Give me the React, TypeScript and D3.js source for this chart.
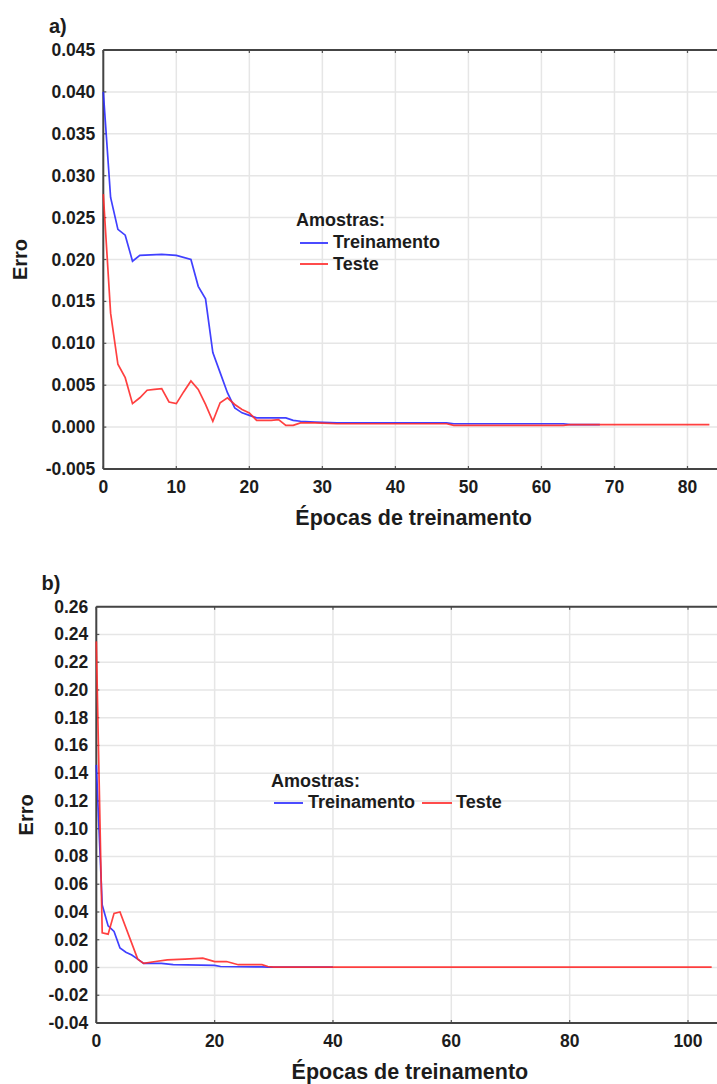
import * as d3 from "d3";
import React from "react";

// painel a) — épocas e erro
const epochsTrainA = [0, 1, 2, 3, 4, 5, 8, 10, 12, 13, 14, 15, 16, 17, 18, 19, 20, 21, 24, 25, 26, 27, 29, 32, 47, 48, 63, 64, 68];
const errTrainA = [0.04, 0.0274, 0.0236, 0.0229, 0.0198, 0.0205, 0.0206, 0.0205, 0.02, 0.0168, 0.0153, 0.0089, 0.0065, 0.0041, 0.0023, 0.0017, 0.0014, 0.0011, 0.0011, 0.0011, 0.0008, 0.0007, 0.0006, 0.0005, 0.0005, 0.0004, 0.0004, 0.0003, 0.0003];
const epochsTestA = [0, 1, 2, 3, 4, 5, 6, 7, 8, 9, 10, 11, 12, 13, 14, 15, 16, 17, 18, 19, 20, 21, 23, 24, 25, 26, 27, 29, 32, 47, 48, 63, 64, 83];
const errTestA = [0.0278, 0.0136, 0.0075, 0.0059, 0.0028, 0.0035, 0.0044, 0.0045, 0.0046, 0.003, 0.0028, 0.0042, 0.0055, 0.0045, 0.0027, 0.0007, 0.0029, 0.0035, 0.0027, 0.0021, 0.0017, 0.0008, 0.0008, 0.0009, 0.0002, 0.0002, 0.0005, 0.0005, 0.0004, 0.0004, 0.0002, 0.0002, 0.0003, 0.0003];
const xTicksA = [0, 10, 20, 30, 40, 50, 60, 70, 80];
const yTicksA = [-0.005, 0, 0.005, 0.01, 0.015, 0.02, 0.025, 0.03, 0.035, 0.04, 0.045];

// painel b)
const epochsTrainB = [0, 1, 2, 3, 4, 5, 6, 7, 8, 11, 13, 20, 21, 28, 29, 40];
const errTrainB = [0.146, 0.045, 0.03, 0.026, 0.014, 0.011, 0.009, 0.006, 0.003, 0.003, 0.002, 0.0015, 0.0007, 0.0004, 0.0002, 0.0002];
const epochsTestB = [0, 1, 2, 3, 4, 7, 8, 10, 12, 15, 18, 20, 22, 24, 28, 29, 30, 104];
const errTestB = [0.235, 0.025, 0.024, 0.039, 0.04, 0.006, 0.003, 0.0043, 0.0055, 0.006, 0.0067, 0.0043, 0.0043, 0.002, 0.002, 0.0007, 0.0002, 0.0002];
const xTicksB = [0, 20, 40, 60, 80, 100];
const yTicksB = [-0.04, -0.02, 0, 0.02, 0.04, 0.06, 0.08, 0.1, 0.12, 0.14, 0.16, 0.18, 0.2, 0.22, 0.24, 0.26];

const seriesNames = ["Treinamento", "Teste"];
const FONT = "'Liberation Sans', Arial, sans-serif";
const BLUE = "#2b2bff";
const RED = "#ff2b2b";
const INK = "#1c1c1c";

type P = {
    label: string; labelX: number;
    x0: number; x1: number; xMax: number;
    top: number; bottom: number; yMin: number; yMax: number;
    xTicks: number[]; yTicks: number[]; yFmt: string; erroX: number;
    train: [number[], number[]]; test: [number[], number[]];
    legendX: number; legendY: number; legendInline: boolean;
};

const Panel: React.FC<P> = (p) => {
    const x = d3.scaleLinear().domain([0, p.xMax]).range([p.x0, p.x1]);
    const y = d3.scaleLinear().domain([p.yMin, p.yMax]).range([p.bottom, p.top]);
    const f = d3.format(p.yFmt);
    const fmt = (v: number) => f(v).replace("\u2212", "-");
    const line = d3.line<[number, number]>().x(d => x(d[0])).y(d => y(d[1]));
    const pts = (s: [number[], number[]]) => s[0].map((e, i) => [e, s[1][i]] as [number, number]);
    const cx = (p.x0 + p.x1) / 2;
    const cy = (p.top + p.bottom) / 2;
    const lx = p.legendX, ly = p.legendY;
    return (
        <g fontFamily={FONT} fontWeight="bold" fill={INK}>
            <text x={p.labelX} y={p.top - 17} fontSize={20}>{p.label}</text>
            {p.yTicks.map(t => (
                <g key={"y" + t}>
                    <line x1={p.x0} x2={p.x1} y1={y(t)} y2={y(t)} stroke="#e6e6e6" strokeWidth={1.5} />
                    <line x1={p.x0} x2={p.x0 + 3} y1={y(t)} y2={y(t)} stroke="#555" strokeWidth={1.2} />
                    <text x={p.x0 - 8} y={y(t)} textAnchor="end" dominantBaseline="central" fontSize={17.5}>{fmt(t)}</text>
                </g>
            ))}
            {p.xTicks.map(t => (
                <g key={"x" + t}>
                    <line x1={x(t)} x2={x(t)} y1={p.top} y2={p.bottom} stroke="#e6e6e6" strokeWidth={1.5} />
                    <line x1={x(t)} x2={x(t)} y1={p.top} y2={p.top + 3} stroke="#555" strokeWidth={1.2} />
                    <line x1={x(t)} x2={x(t)} y1={p.bottom} y2={p.bottom - 3} stroke="#555" strokeWidth={1.2} />
                    <text x={x(t)} y={p.bottom + 24} textAnchor="middle" fontSize={17.5}>{t}</text>
                </g>
            ))}
            <line x1={p.x0} x2={p.x1} y1={p.top} y2={p.top} stroke="#444" strokeWidth={2} />
            <line x1={p.x0} x2={p.x1} y1={p.bottom} y2={p.bottom} stroke="#444" strokeWidth={2} />
            <line x1={p.x0} x2={p.x0} y1={p.top} y2={p.bottom} stroke="#444" strokeWidth={2} />

            <path d={line(pts(p.train)) ?? undefined} fill="none" stroke={BLUE} strokeWidth={1.7} strokeOpacity={0.9} />
            <path d={line(pts(p.test)) ?? undefined} fill="none" stroke={RED} strokeWidth={1.7} strokeOpacity={0.9} />

            <text x={cx} y={p.bottom + 56} textAnchor="middle" fontSize={21.5}>Épocas de treinamento</text>
            <text transform={`translate(${p.erroX},${cy}) rotate(-90)`} textAnchor="middle" fontSize={20}>Erro</text>

            <text x={lx} y={ly} fontSize={18}>Amostras:</text>
            {p.legendInline ? (
                <g fontSize={18}>
                    <line x1={lx + 3} x2={lx + 32} y1={ly + 16} y2={ly + 16} stroke={BLUE} strokeWidth={1.7} />
                    <text x={lx + 37} y={ly + 21}>{seriesNames[0]}</text>
                    <line x1={lx + 151} x2={lx + 181} y1={ly + 16} y2={ly + 16} stroke={RED} strokeWidth={1.7} />
                    <text x={lx + 185} y={ly + 21}>{seriesNames[1]}</text>
                </g>
            ) : (
                <g fontSize={18}>
                    <line x1={lx + 4} x2={lx + 32} y1={ly + 17} y2={ly + 17} stroke={BLUE} strokeWidth={1.7} />
                    <text x={lx + 37} y={ly + 22}>{seriesNames[0]}</text>
                    <line x1={lx + 4} x2={lx + 32} y1={ly + 38} y2={ly + 38} stroke={RED} strokeWidth={1.7} />
                    <text x={lx + 37} y={ly + 44}>{seriesNames[1]}</text>
                </g>
            )}
        </g>
    );
};

export default function App() {
    return (
        <svg width={717} height={1084} viewBox="0 0 717 1084"
            style={{ position: "absolute", left: 0, top: 0, background: "#fff" }}>
            <rect width={717} height={1084} fill="#fff" />
            <Panel label="a)" labelX={49} x0={103.3} x1={724} xMax={85} top={50} bottom={469}
                yMin={-0.005} yMax={0.045} xTicks={xTicksA} yTicks={yTicksA} yFmt=".3f" erroX={27}
                train={[epochsTrainA, errTrainA]} test={[epochsTestA, errTestA]}
                legendX={296} legendY={226} legendInline={false} />
            <Panel label="b)" labelX={41.5} x0={96.3} x1={723.5} xMax={106} top={606.7} bottom={1023}
                yMin={-0.04} yMax={0.26} xTicks={xTicksB} yTicks={yTicksB} yFmt=".2f" erroX={33}
                train={[epochsTrainB, errTrainB]} test={[epochsTestB, errTestB]}
                legendX={271} legendY={787} legendInline={true} />
        </svg>
    );
}
